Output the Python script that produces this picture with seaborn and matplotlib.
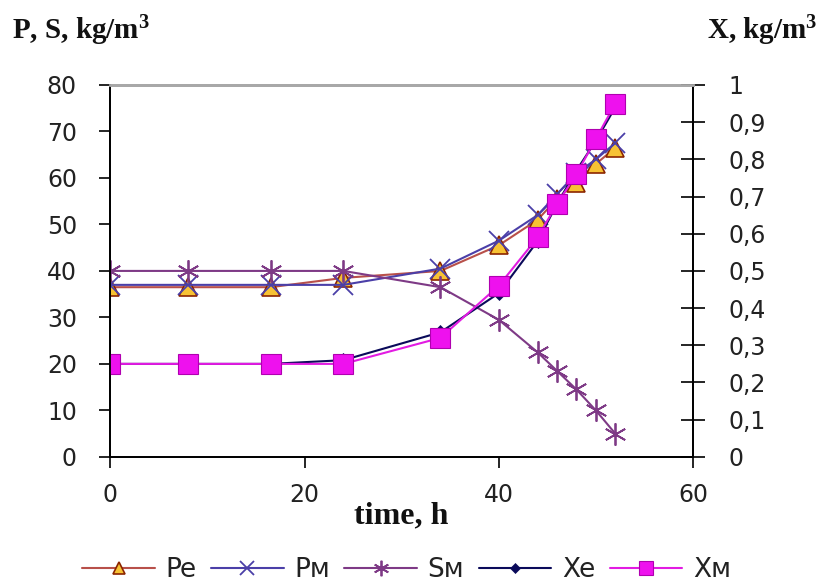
import matplotlib
matplotlib.use("Agg")
import matplotlib.pyplot as plt
import seaborn as sns
import pandas as pd
from matplotlib.ticker import FuncFormatter

time_h = [0, 8, 16.5, 24, 34, 40, 44, 46, 48, 50, 52]
Pe = [36.5, 36.5, 36.5, 38.5, 40, 45.5, 51, 55.5, 59, 63, 66.5]
Pm = [37, 37, 37, 37, 40.5, 46.5, 52, 56.5, 61, 64, 67.5]
Sm = [40, 40, 40, 40, 36.5, 29.5, 22.5, 18.5, 14.5, 10, 5]
Xe = [0.25, 0.25, 0.25, 0.26, 0.335, 0.44, 0.58, 0.68, 0.77, 0.85, 0.94]
Xm = [0.25, 0.25, 0.25, 0.25, 0.32, 0.46, 0.59, 0.68, 0.76, 0.855, 0.95]

left_ticks = [0, 10, 20, 30, 40, 50, 60, 70, 80]
right_ticks = [0, 0.1, 0.2, 0.3, 0.4, 0.5, 0.6, 0.7, 0.8, 0.9, 1.0]
x_ticks = [0, 20, 40, 60]

sns.set_style("white")
plt.rcParams['font.family'] = ['DejaVu Sans']
plt.rcParams['mathtext.fontset'] = 'custom'
plt.rcParams['mathtext.rm'] = 'Liberation Serif:bold'
plt.rcParams['mathtext.bf'] = 'Liberation Serif:bold'
plt.rcParams['mathtext.it'] = 'Liberation Serif:bold'

fig = plt.figure(figsize=(8.23, 5.82), dpi=100)
ax = fig.add_axes([0.134, 0.215, 0.708, 0.639])
ax2 = ax.twinx()

df = pd.DataFrame({"t": time_h, "Pe": Pe, "Pm": Pm, "Sm": Sm, "Xe": Xe, "Xm": Xm})

specs = [
    ("Pe", "Pe", ax, dict(color="#B8504A", marker="^", ms=13, mfc="#F7C234", mec="#8B2500", mew=1.2)),
    ("Pm", "Pм", ax, dict(color="#4B3FA8", marker="x", ms=14, mfc="none", mec="#4B3FA8", mew=1.3)),
    ("Sm", "Sм", ax, dict(color="#7E3A86", marker=(6, 2, 0), ms=16, mfc="none", mec="#7E3A86", mew=1.3)),
    ("Xe", "Xe", ax2, dict(color="#0A0A5A", marker="D", ms=7, mfc="#0A0A5A", mec="#0A0A5A", mew=0.5)),
    ("Xm", "Xм", ax2, dict(color="#E21BE2", marker="s", ms=14, mfc="#EE11EE", mec="#B000B0", mew=0.8)),
]

handles = []
for col, lab, a, st in specs:
    sns.lineplot(data=df, x="t", y=col, ax=a, color=st["color"], linewidth=1.5,
                 label=lab, legend=False)
    ln = a.lines[-1]
    ln.set_linestyle("-")
    ln.set_marker(st["marker"])
    ln.set_markersize(st["ms"])
    ln.set_markerfacecolor(st["mfc"])
    ln.set_markeredgecolor(st["mec"])
    ln.set_markeredgewidth(st["mew"])
    handles.append(ln)

ax.set_xlim(0, 60)
ax.set_ylim(0, 80)
ax2.set_ylim(0, 1)
ax.set_xticks(x_ticks)
ax.set_yticks(left_ticks)
ax2.set_yticks(right_ticks)
ax2.yaxis.set_major_formatter(FuncFormatter(lambda v, p: ("%g" % round(v, 1)).replace(".", ",")))

for a in (ax, ax2):
    a.grid(False)
    a.set_ylabel("")
    for s in a.spines.values():
        s.set_color("black")
        s.set_linewidth(1.3)
    a.spines['top'].set_color("#A8A8A8")
    a.spines['top'].set_linewidth(2)
ax.set_xlabel("time, h", family="Liberation Serif", fontweight="bold", fontsize=23, va="center",
              color="#111111")
ax.xaxis.set_label_coords(0.5, -0.158)

ax.tick_params(axis="y", labelsize=17, direction="out", length=8, width=1.2, color="black",
               left=True, pad=16, labelcolor="#222222")
ax.tick_params(axis="x", labelsize=17, direction="out", length=8, width=1.2, color="black",
               bottom=True, pad=11, labelcolor="#222222")
ax2.tick_params(axis="y", labelsize=17, direction="inout", length=17, width=1.2, color="black",
                right=True, pad=17, labelcolor="#222222")

fig.text(0.014, 0.933, r"P, S, kg/m$^\mathbf{3}$", family="Liberation Serif", fontweight="bold",
         fontsize=21, ha="left", va="baseline", color="#111111")
fig.text(0.993, 0.933, r"X, kg/m$^\mathbf{3}$", family="Liberation Serif", fontweight="bold",
         fontsize=21, ha="right", va="baseline", color="#111111")

fig.legend(handles, [s[1] for s in specs], loc="center", bbox_to_anchor=(0.494, 0.02), ncol=5,
           frameon=False, fontsize=19, handlelength=2.75, handletextpad=0.4, columnspacing=0.55,
           markerscale=0.7, labelcolor="#222222")

fig.savefig("out.png", dpi=100)
